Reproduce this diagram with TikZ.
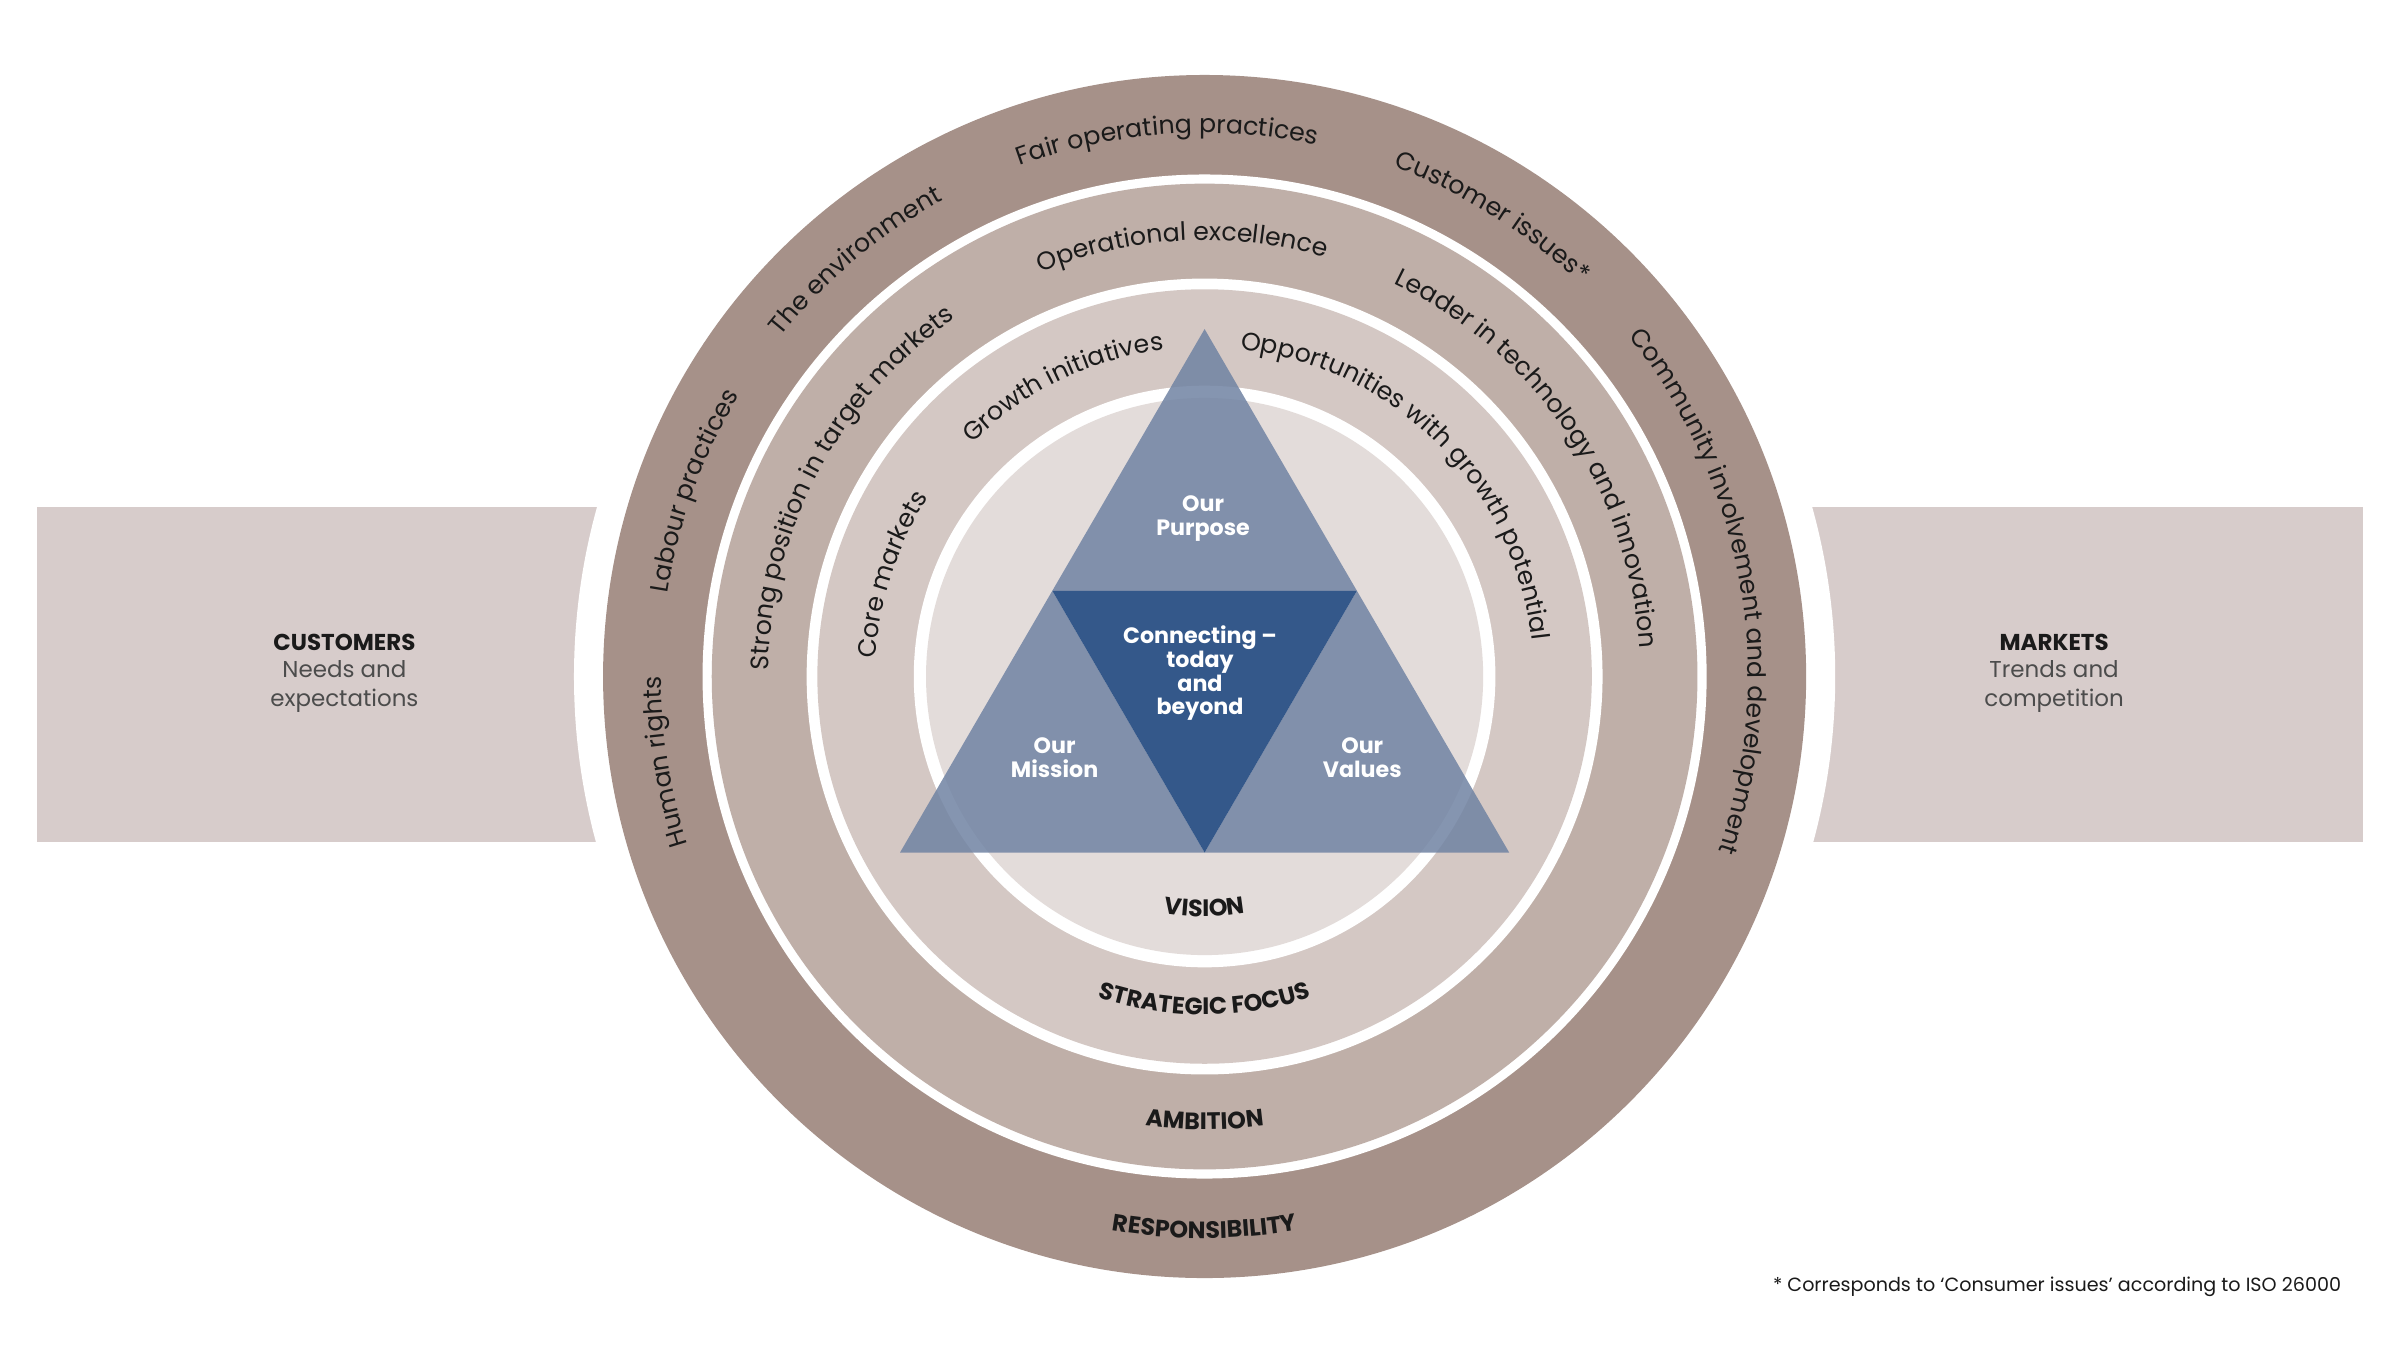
\documentclass[tikz,border=0pt]{standalone}
\usepackage{fontspec}
\setmainfont{Poppins}
\usetikzlibrary{decorations.text}
\definecolor{outerc}{HTML}{A69189}
\definecolor{ambc}{HTML}{BFAFA8}
\definecolor{stratc}{HTML}{D4C8C4}
\definecolor{visc}{HTML}{E3DCDA}
\definecolor{sidec}{HTML}{D7CCCB}
\definecolor{trilight}{HTML}{7083A3}
\definecolor{tridark}{HTML}{34588A}
\definecolor{txt}{HTML}{1A1A1A}
\newcommand\ringfont{\fontsize{16.5}{16.5}\selectfont\color{txt}}
\newcommand\capfont{\fontsize{15.5}{15.5}\selectfont\bfseries\color{txt}}
\newcommand\toparc[4]{\path[decorate,decoration={text along path,text align=center,text={|\ringfont|#4}}] (C) ++({#2+#3}:#1) arc[start angle={#2+#3},end angle={#2-#3},radius=#1];}
\newcommand\botarc[3]{\path[decorate,decoration={text along path,text align=center,text={|\capfont|#3}}] (C) ++({-90-#2}:#1) arc[start angle={-90-#2},end angle={-90+#2},radius=#1];}
\tikzset{
  tri/.style={fill=trilight,fill opacity=0.85,draw=none},
  trilabel/.style={text=white,font=\fontsize{14.5}{15.5}\selectfont\bfseries,align=center},
  sidetitle/.style={font=\fontsize{15}{19}\selectfont\bfseries,text=txt,align=center},
  sidetext/.style={font=\fontsize{15}{19}\selectfont,text=black!70,align=center}
}
\begin{document}
\begin{tikzpicture}[x=1pt,y=1pt]
\useasboundingbox (0,0) rectangle (1568,882);
\fill[white] (0,0) rectangle (1568,882);
\coordinate (C) at (787,440);
% side panels
\fill[sidec] (24,332) rectangle (420,551);
\fill[sidec] (1150,332) rectangle (1544,551);
\fill[white] (C) circle[radius=412];
% rings
\fill[outerc] (C) circle[radius=393];
\fill[white] (C) circle[radius=328];
\fill[ambc] (C) circle[radius=322];
\fill[white] (C) circle[radius=260];
\fill[stratc] (C) circle[radius=253];
\fill[white] (C) circle[radius=190];
\fill[visc] (C) circle[radius=182];
% side texts
\node[sidetitle,align=center] (cust) at (225,442) {CUSTOMERS\\[-1pt]\mdseries\color{black!70}Needs and\\\mdseries\color{black!70}expectations};
\node[sidetitle,align=center] (mark) at (1342,442) {MARKETS\\[-1pt]\mdseries\color{black!70}Trends and\\\mdseries\color{black!70}competition};
% triangles
\coordinate (A) at (787,667);
\coordinate (L) at (588,325);
\coordinate (R) at (986,325);
\coordinate (ML) at (687.5,496);
\coordinate (MR) at (886.5,496);
\coordinate (MB) at (787,325);
\fill[tri] (A) -- (ML) -- (MR) -- cycle;
\fill[tri] (ML) -- (L) -- (MB) -- cycle;
\fill[tri] (MR) -- (MB) -- (R) -- cycle;
\fill[tridark] (ML) -- (MR) -- (MB) -- cycle;
\node[trilabel] (purp) at (786,543) {Our\\Purpose};
\node[trilabel] (conn) at (784,442) {Connecting –\\today\\and\\beyond};
\node[trilabel] (miss) at (689,387) {Our\\Mission};
\node[trilabel] (val) at (890,387) {Our\\Values};
% outer ring labels
\toparc{355}{94}{60}{Fair operating practices}
\toparc{355}{58}{50}{Customer issues*}
\toparc{355}{130}{50}{The environment}
\toparc{355}{160}{50}{Labour practices}
\toparc{355}{189}{50}{Human rights}
\toparc{355}{10}{60}{Community involvement and development}
\botarc{367}{40}{RESPONSIBILITY}
% ambition ring labels
\toparc{285}{93}{60}{Operational excellence}
\toparc{285}{34}{60}{Leader in technology and innovation}
\toparc{285}{152}{60}{Strong position in target markets}
\botarc{296}{40}{AMBITION}
% strategic ring labels
\toparc{215}{116}{50}{Growth initiatives}
\toparc{215}{162}{50}{Core markets}
\toparc{215}{45}{70}{Opportunities with growth potential}
\botarc{221}{45}{STRATEGIC FOCUS}
\botarc{157}{40}{VISION}
% footnote
\node[anchor=east,font=\fontsize{12.5}{12.5}\selectfont,text=txt] (fn) at (1533,41) {* Corresponds to ‘Consumer issues’ according to ISO 26000};
\end{tikzpicture}
\end{document}
